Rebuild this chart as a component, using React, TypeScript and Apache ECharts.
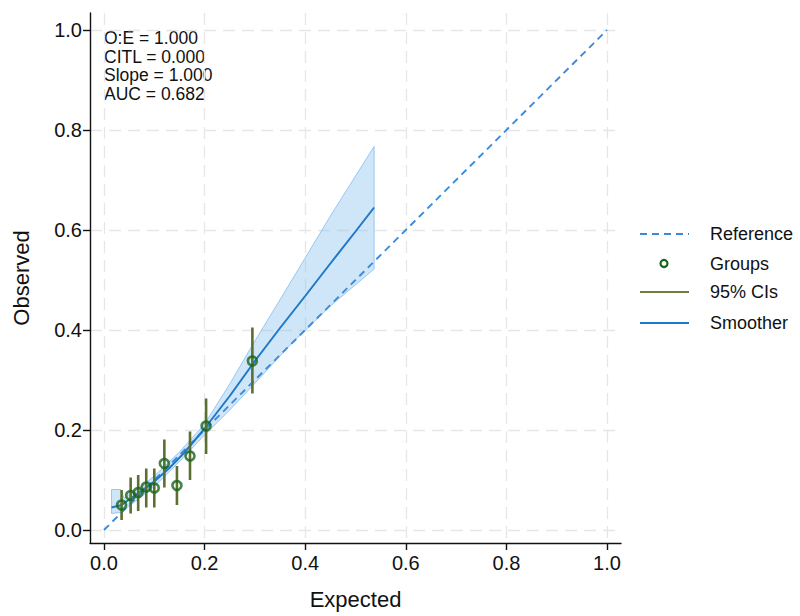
import React, { useEffect, useRef } from "react";
import * as echarts from "echarts";

// Tick values (both axes)
const tickValues = [0, 0.2, 0.4, 0.6, 0.8, 1.0];

// Reference line (perfect calibration)
const refX = [0, 1];
const refY = [0, 1];

// Grouped observations
const groupX = [0.035, 0.053, 0.068, 0.084, 0.100, 0.120, 0.145, 0.171, 0.203, 0.295];
const groupY = [0.050, 0.069, 0.075, 0.086, 0.084, 0.133, 0.089, 0.148, 0.208, 0.338];
const ciLow = [0.020, 0.033, 0.038, 0.045, 0.045, 0.085, 0.050, 0.100, 0.152, 0.273];
const ciHigh = [0.080, 0.105, 0.110, 0.123, 0.123, 0.181, 0.128, 0.197, 0.263, 0.405];

// Smoother
const smoothX = [0.015, 0.035, 0.05, 0.07, 0.1, 0.13, 0.16, 0.2, 0.25, 0.3, 0.35, 0.4, 0.45, 0.5, 0.537];
const smoothY = [0.045, 0.05, 0.061, 0.075, 0.097, 0.124, 0.155, 0.203, 0.268, 0.338, 0.404, 0.468, 0.533, 0.597, 0.645];

// Smoother confidence band
const bandX = [0.015, 0.033, 0.04, 0.07, 0.1, 0.15, 0.2, 0.25, 0.294, 0.37, 0.45, 0.537];
const bandUpper = [0.081, 0.081, 0.064, 0.084, 0.108, 0.156, 0.212, 0.292, 0.368, 0.494, 0.628, 0.767];
const bandLower = [0.033, 0.035, 0.04, 0.063, 0.087, 0.137, 0.19, 0.24, 0.287, 0.37, 0.448, 0.522];

// Annotation lines
const statsLines = ["O:E = 1.000", "CITL = 0.000", "Slope = 1.000", "AUC = 0.682"];

// Legend
const legendNames = ["Reference", "Groups", "95% CIs", "Smoother"];

const FONT = "'Liberation Sans', Arial, Helvetica, sans-serif";
const REF_COLOR = "#3d8bd8";
const SMOOTH_COLOR = "#1f78c6";
const CI_COLOR = "#5b7030";
const GROUP_COLOR = "#17651a";
const BAND_FILL = "rgba(140, 195, 240, 0.42)";
const BAND_EDGE = "rgba(120, 180, 235, 0.7)";
const GRID_COLOR = "#e6e6e6";

export default function App() {
  const ref = useRef<HTMLDivElement>(null);

  useEffect(() => {
    if (!ref.current) return;
    const chart = echarts.init(ref.current, undefined, { renderer: "svg" });

    const axisCommon = {
      type: "value" as const,
      axisLine: { show: true, onZero: false, lineStyle: { color: "#111", width: 1.4 } },
      axisTick: { show: true, length: 7, customValues: tickValues, lineStyle: { color: "#111", width: 1.4 } },
      axisLabel: {
        customValues: tickValues,
        formatter: (v: number) => v.toFixed(1),
        color: "#111",
        fontSize: 20,
        fontFamily: FONT,
      },
      splitLine: {
        show: true,
        lineStyle: { color: GRID_COLOR, width: 1.3, type: [12, 7] },
      },
      nameLocation: "middle" as const,
      nameTextStyle: { fontSize: 22, color: "#111", fontFamily: FONT },
    };

    const legendY = [234, 263.5, 292, 323];
    const graphic: any[] = [];
    statsLines.forEach((t, i) => {
      graphic.push({
        type: "text",
        left: 104,
        top: 29 + i * 18.7,
        style: { text: t, font: `17.5px ${FONT}`, fill: "#111" },
      });
    });
    graphic.push(
      {
        type: "line",
        shape: { x1: 640, y1: legendY[0], x2: 689, y2: legendY[0] },
        style: { stroke: REF_COLOR, lineWidth: 2, lineDash: [7, 5] },
      },
      {
        type: "circle",
        shape: { cx: 664, cy: legendY[1], r: 3.5 },
        style: { stroke: GROUP_COLOR, lineWidth: 2.2, fill: "none" },
      },
      {
        type: "line",
        shape: { x1: 640, y1: legendY[2], x2: 689, y2: legendY[2] },
        style: { stroke: "#6b7f45", lineWidth: 2.2 },
      },
      {
        type: "line",
        shape: { x1: 640, y1: legendY[3], x2: 689, y2: legendY[3] },
        style: { stroke: SMOOTH_COLOR, lineWidth: 2.2 },
      }
    );
    legendNames.forEach((n, i) => {
      graphic.push({
        type: "text",
        x: 710,
        y: legendY[i],
        style: { text: n, font: `18px ${FONT}`, fill: "#111", textVerticalAlign: "middle" },
      });
    });

    chart.setOption({
      animation: false,
      backgroundColor: "#ffffff",
      grid: { left: 90, top: 13, width: 531, height: 530, containLabel: false },
      xAxis: {
        ...axisCommon,
        min: -0.0278,
        max: 1.0278,
        name: "Expected",
        nameGap: 45,
        axisLabel: { ...axisCommon.axisLabel, margin: 10 },
      },
      yAxis: {
        ...axisCommon,
        min: -0.026,
        max: 1.034,
        name: "Observed",
        nameGap: 58,
        axisLabel: { ...axisCommon.axisLabel, margin: 8 },
      },
      series: [
        {
          type: "custom",
          name: "Band",
          renderItem: (params: any, api: any) => {
            if (params.dataIndex !== 0) return null;
            const pts: number[][] = [];
            bandX.forEach((x, i) => pts.push(api.coord([x, bandUpper[i]])));
            for (let i = bandX.length - 1; i >= 0; i--) pts.push(api.coord([bandX[i], bandLower[i]]));
            return {
              type: "polygon",
              shape: { points: pts },
              style: { fill: BAND_FILL, stroke: BAND_EDGE, lineWidth: 1 },
            };
          },
          data: [[bandX[0], bandLower[0]]],
          encode: { x: 0, y: 1 },
          z: 1,
        },
        {
          type: "line",
          name: "Reference",
          data: refX.map((x, i) => [x, refY[i]]),
          symbol: "none",
          lineStyle: { color: REF_COLOR, width: 1.9, type: [7, 5] },
          z: 2,
        },
        {
          type: "line",
          name: "Smoother",
          data: smoothX.map((x, i) => [x, smoothY[i]]),
          symbol: "none",
          lineStyle: { color: SMOOTH_COLOR, width: 2 },
          z: 3,
        },
        {
          type: "custom",
          name: "95% CIs",
          renderItem: (params: any, api: any) => {
            const lo = api.coord([api.value(0), api.value(1)]);
            const hi = api.coord([api.value(0), api.value(2)]);
            return {
              type: "line",
              shape: { x1: lo[0], y1: lo[1], x2: hi[0], y2: hi[1] },
              style: { stroke: CI_COLOR, lineWidth: 2.6 },
            };
          },
          data: groupX.map((x, i) => [x, ciLow[i], ciHigh[i]]),
          encode: { x: 0, y: [1, 2] },
          z: 4,
        },
        {
          type: "scatter",
          name: "Groups",
          data: groupX.map((x, i) => [x, groupY[i]]),
          symbol: "circle",
          symbolSize: 9,
          itemStyle: { color: "rgba(255,255,255,0)", borderColor: GROUP_COLOR, borderWidth: 2.6 },
          z: 5,
        },
      ],
      graphic,
    });

    return () => chart.dispose();
  }, []);

  return (
    <div
      ref={ref}
      style={{ position: "absolute", left: 0, top: 0, width: 800, height: 616 }}
    />
  );
}
